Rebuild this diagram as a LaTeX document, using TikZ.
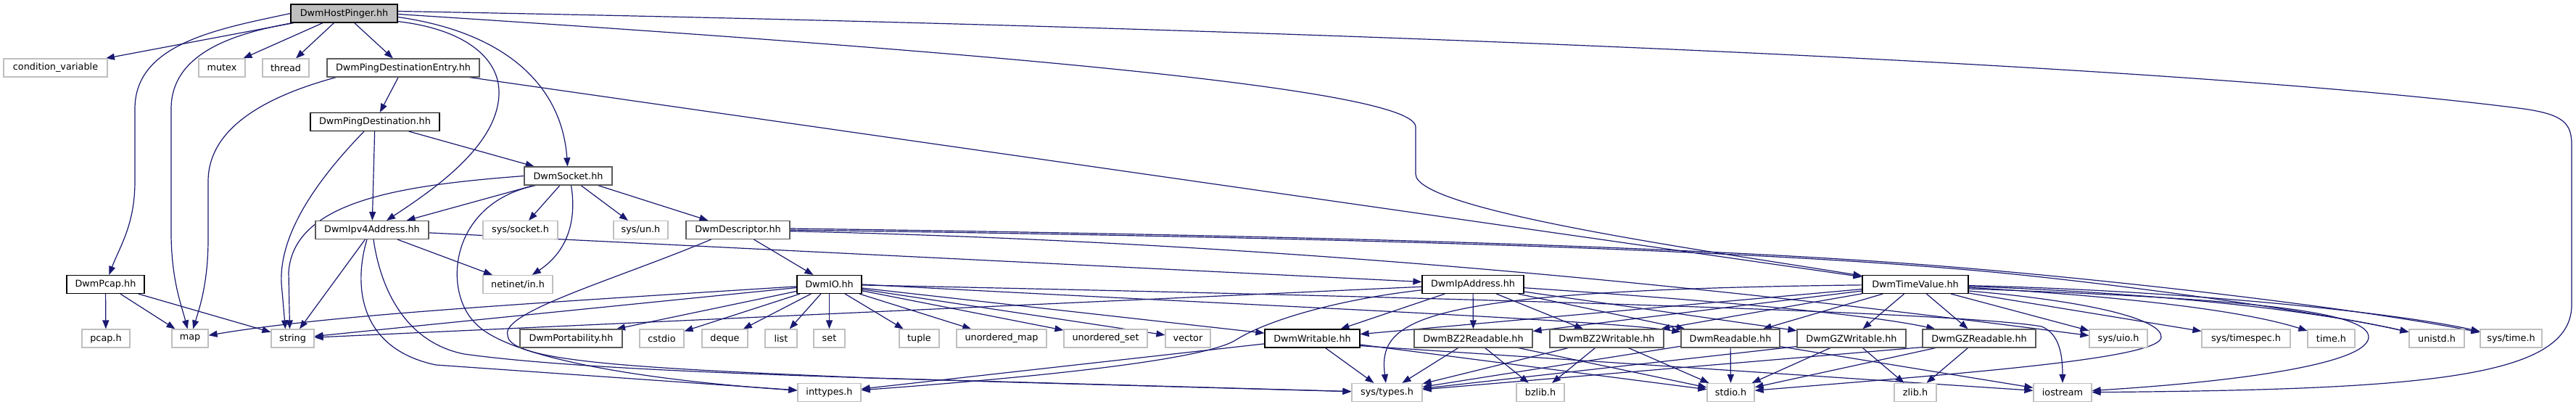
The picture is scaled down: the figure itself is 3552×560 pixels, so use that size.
\documentclass[tikz,border=0pt]{standalone}
\usepackage{fontspec}
\setmainfont{DejaVu Sans}
\usetikzlibrary{arrows.meta,calc}
\pgfdeclarelayer{bg}
\pgfsetlayers{bg,main}
\definecolor{edgec}{HTML}{191970}
\definecolor{extc}{HTML}{BFBFBF}
\definecolor{grayc}{HTML}{5A5A5A}
\definecolor{hpfill}{HTML}{BFBFBF}
\newcommand\nfs{\fontsize{12.8}{15}\selectfont}
\tikzset{
  box/.style={draw, line width=1.2pt, minimum height=25pt, inner sep=0pt, font=\nfs, fill=white, text=black},
  ext/.style={box, draw=extc},
  doc/.style={box, draw=black},
  gry/.style={box, draw=grayc},
  e/.style={draw=edgec, line width=1.2pt, -{Triangle[length=12pt,width=9pt]}},
}
\begin{document}
\begin{tikzpicture}[x=1pt,y=-1pt]
\useasboundingbox (0,0) rectangle (3552,560);
% row 0
\node[doc, fill=hpfill, minimum width=147pt] (hp) at (474.5,18.5) {DwmHostPinger.hh};
% row 1
\node[ext, minimum width=143pt] (cv) at (76.5,93.5) {condition\_variable};
\node[ext, minimum width=64pt] (mutex) at (306,93.5) {mutex};
\node[ext, minimum width=64pt] (thread) at (394,93.5) {thread};
\node[gry, minimum width=210pt] (pde) at (556,93.5) {DwmPingDestinationEntry.hh};
% row 2
\node[doc, minimum width=178pt] (pd) at (517,168) {DwmPingDestination.hh};
% row 3
\node[gry, minimum width=121pt] (s) at (783.5,242.5) {DwmSocket.hh};
% row 4
\node[gry, minimum width=156pt] (i4) at (513,317) {DwmIpv4Address.hh};
\node[ext, minimum width=103pt] (sock) at (717.5,317) {sys/socket.h};
\node[ext, minimum width=75pt] (un) at (883.5,317) {sys/un.h};
\node[gry, minimum width=143pt] (d) at (1017.5,317) {DwmDescriptor.hh};
% row 5
\node[doc, minimum width=107pt] (pcap) at (145.5,392) {DwmPcap.hh};
\node[ext, minimum width=96pt] (netin) at (714,392) {netinet/in.h};
\node[doc, minimum width=89pt] (io) at (1143.5,392) {DwmIO.hh};
\node[doc, minimum width=140pt] (ia) at (2031,392) {DwmIpAddress.hh};
\node[doc, minimum width=146pt] (tv) at (2641,392) {DwmTimeValue.hh};
% row 6
\node[ext, minimum width=66pt] (pcaph) at (146,466.5) {pcap.h};
\node[ext, minimum width=50pt] (map) at (262,466.5) {map};
\node[ext, minimum width=59pt] (string) at (403.5,466.5) {string};
\node[gry, minimum width=141pt] (port) at (787.5,466.5) {DwmPortability.hh};
\node[ext, minimum width=61pt] (cstdio) at (912.5,466.5) {cstdio};
\node[ext, minimum width=63pt] (deque) at (999.5,466.5) {deque};
\node[ext, minimum width=44pt] (list) at (1077,466.5) {list};
\node[ext, minimum width=43pt] (set) at (1143.5,466.5) {set};
\node[ext, minimum width=55pt] (tuple) at (1267.5,466.5) {tuple};
\node[ext, minimum width=124pt] (umap) at (1381,466.5) {unordered\_map};
\node[ext, minimum width=115pt] (uset) at (1524.5,466.5) {unordered\_set};
\node[ext, minimum width=62pt] (vector) at (1638,466.5) {vector};
\node[doc, minimum width=131pt] (w) at (1809.5,466.5) {DwmWritable.hh};
\node[gry, minimum width=163pt] (br) at (2031.5,466.5) {DwmBZ2Readable.hh};
\node[gry, minimum width=157pt] (bw) at (2215.5,466.5) {DwmBZ2Writable.hh};
\node[gry, minimum width=136pt] (R) at (2386,466.5) {DwmReadable.hh};
\node[gry, minimum width=150pt] (gzw) at (2553,466.5) {DwmGZWritable.hh};
\node[gry, minimum width=156pt] (gzr) at (2729,466.5) {DwmGZReadable.hh};
\node[ext, minimum width=80pt] (uio) at (2921,466.5) {sys/uio.h};
\node[ext, minimum width=122pt] (timespec) at (3097,466.5) {sys/timespec.h};
\node[ext, minimum width=65pt] (timeh) at (3214.5,466.5) {time.h};
\node[ext, minimum width=76pt] (unistd) at (3360,466.5) {unistd.h};
\node[ext, minimum width=85pt] (systime) at (3462.5,466.5) {sys/time.h};
% row 7
\node[ext, minimum width=87pt] (inttypes) at (1143.5,541) {inttypes.h};
\node[ext, minimum width=97pt] (systypes) at (1912.5,541) {sys/types.h};
\node[ext, minimum width=66pt] (bzlib) at (2124,541) {bzlib.h};
\node[ext, minimum width=65pt] (stdio) at (2386.5,541) {stdio.h};
\node[ext, minimum width=58pt] (zlib) at (2641,541) {zlib.h};
\node[ext, minimum width=80pt] (ios) at (2844,541) {iostream};

\begin{pgfonlayer}{bg}
% DwmHostPinger
\draw[e] (hp) -- (cv);
\draw[e] (hp.west) .. controls (300,40) and (186,60) .. (186,150) -- (186,250) .. controls (186,310) and (165,340) .. (pcap);
\draw[e] (hp) .. controls (330,45) and (236,70) .. (236,150) -- (236,320) .. controls (236,385) and (250,420) .. (map);
\draw[e] (hp) -- (mutex);
\draw[e] (hp) -- (thread);
\draw[e] (hp) -- (pde);
\draw[e] ($(hp.south east)+(0,-2)$) .. controls (640,40) and (690,80) .. (688,130) .. controls (686,200) and (600,260) .. (i4);
\draw[e] ($(hp.east)+(0,5)$) .. controls (700,45) and (775,120) .. (s);
\draw[e] ($(hp.east)+(0,1)$) .. controls (1300,68) and (1952,120) .. (1952,175) -- (1952,240) .. controls (1952,290) and (2350,345) .. (tv);
\draw[e] ($(hp.east)+(0,-3)$) .. controls (1800,38) and (3000,88) .. (3480,150) .. controls (3535,158) and (3546,170) .. (3546,200) -- (3546,420) .. controls (3546,520) and (3350,537) .. (ios);
% DwmPingDestinationEntry
\draw[e] ($(pde.south west)+(13,0)$) .. controls (340,140) and (287,190) .. (287,250) -- (287,330) .. controls (287,390) and (275,425) .. (map);
\draw[e] (pde) -- (pd);
\draw[e] (pde) -- (tv);
% DwmPingDestination
\draw[e] ($(pd.south)+(-15,0)$) .. controls (440,245) and (385,320) .. (388,390) -- ($(string.north)+(-10,0)$);
\draw[e] (pd) -- (i4);
\draw[e] (pd) -- (s);
% DwmSocket
\draw[e] (s.west) .. controls (560,255) and (405,275) .. (398,375) -- ($(string.north)+(-4,0)$);
\draw[e] (s) -- (i4);
\draw[e] (s) -- (sock);
\draw[e] (s) -- (un);
\draw[e] (s) -- (d);
\draw[e] ($(s.south)+(4,0)$) .. controls (795,300) and (785,345) .. (netin);
\draw[e] ($(s.south)+(-45,0)$) .. controls (620,280) and (610,400) .. (655,445) .. controls (700,495) and (900,525) .. (inttypes);
% DwmIpv4Address
\draw[e] (i4) -- (string);
\draw[e] ($(i4.south)+(-7,0)$) .. controls (488,390) and (492,480) .. (601,503) -- (inttypes);
\draw[e] ($(i4.south)+(2,0)$) .. controls (525,400) and (560,472) .. (640,488) .. controls (800,510) and (1100,518) .. (1400,527) -- (systypes);
\draw[e] (i4) -- (netin);
\draw[e] (i4) -- (ia);
% DwmDescriptor
\draw[e] (d) -- (io);
\draw[e] ($(d.south)+(-37,0)$) .. controls (850,385) and (690,430) .. (700,462) .. controls (700,500) and (900,508) .. (1200,521) -- (systypes);
\draw[e] (d.east) .. controls (1900,328) and (2400,345) .. (2714,372) .. controls (2900,388) and (3200,430) .. (unistd);
\draw[e] ($(d.east)+(0,-2)$) .. controls (1900,326) and (2400,343) .. (2716,370) .. controls (2950,390) and (3250,425) .. (systime);
\draw[e] (d) .. controls (1800,335) and (2400,400) .. ($(uio.west)+(0,-4)$);
% DwmPcap
\draw[e] (pcap) -- (pcaph);
\draw[e] (pcap) -- (map);
\draw[e] (pcap) -- (string);
% DwmIO
\draw[e] (io) .. controls (700,420) and (450,435) .. (map);
\draw[e] (io) -- (string);
\draw[e] (io) -- (port);
\draw[e] (io) -- (cstdio);
\draw[e] (io) -- (deque);
\draw[e] (io) -- (list);
\draw[e] (io) -- (set);
\draw[e] (io) -- (tuple);
\draw[e] (io) -- (umap);
\draw[e] (io) -- (uset);
\draw[e] (io) -- (vector);
\draw[e] (io) -- (w);
\draw[e] (io.east) .. controls (1700,420) and (2200,440) .. ($(R.north west)+(0,4)$);
\draw[e] (io) .. controls (2000,410) and (2700,430) .. (2815,450) .. controls (2840,460) and (2844,490) .. (ios);
% DwmIpAddress
\draw[e] (ia) -- (string);
\draw[e] (ia) .. controls (1850,412) and (1750,440) .. (1705,468) .. controls (1660,498) and (1400,522) .. (inttypes);
\draw[e] (ia) -- (br);
\draw[e] (ia) -- (bw);
\draw[e] (ia) -- (w);
\draw[e] (ia) -- (R);
\draw[e] (ia) -- (gzw);
\draw[e] (ia) .. controls (2300,410) and (2560,430) .. (gzr);
% DwmTimeValue
\draw[e] (tv) .. controls (1950,400) and (1900,440) .. (systypes);
\draw[e] (tv) -- (uio);
\draw[e] (tv) -- (timespec);
\draw[e] (tv) .. controls (2950,410) and (3100,430) .. (timeh);
\draw[e] (tv) .. controls (3000,405) and (3200,430) .. (unistd);
\draw[e] (tv) .. controls (3000,400) and (3300,430) .. (systime);
\draw[e] ($(tv.east)+(0,6)$) .. controls (3050,410) and (3268,425) .. (3266,465) .. controls (3264,500) and (3100,525) .. (ios);
\draw[e] ($(tv.east)+(0,9)$) .. controls (2880,415) and (2982,440) .. (2980,465) .. controls (2978,495) and (2700,515) .. (stdio);
\draw[e] (tv) -- (gzw);
\draw[e] (tv) -- (gzr);
\draw[e] (tv) -- (R);
\draw[e] (tv) -- (bw);
\draw[e] (tv) -- (br);
\draw[e] (tv) -- (w);
% DwmWritable
\draw[e] (w) -- (inttypes);
\draw[e] (w) -- (systypes);
\draw[e] (w) -- (stdio);
\draw[e] ($(w.south east)+(0,-3)$) -- (ios);
% DwmReadable
\draw[e] (R) -- (stdio);
\draw[e] (R) -- (systypes);
\draw[e] (R) -- (ios);
% BZ2
\draw[e] (br) -- (systypes);
\draw[e] (br) -- (bzlib);
\draw[e] (br) -- (stdio);
\draw[e] (bw) -- (systypes);
\draw[e] (bw) -- (bzlib);
\draw[e] (bw) -- (stdio);
% GZ
\draw[e] ($(gzw.south west)+(0,-2)$) -- (systypes);
\draw[e] (gzw) -- (zlib);
\draw[e] (gzw) -- (stdio);
\draw[e] ($(gzr.south west)+(0,-1)$) -- (systypes);
\draw[e] (gzr) -- (zlib);
\draw[e] (gzr) -- (stdio);
\end{pgfonlayer}
\end{tikzpicture}
\end{document}
